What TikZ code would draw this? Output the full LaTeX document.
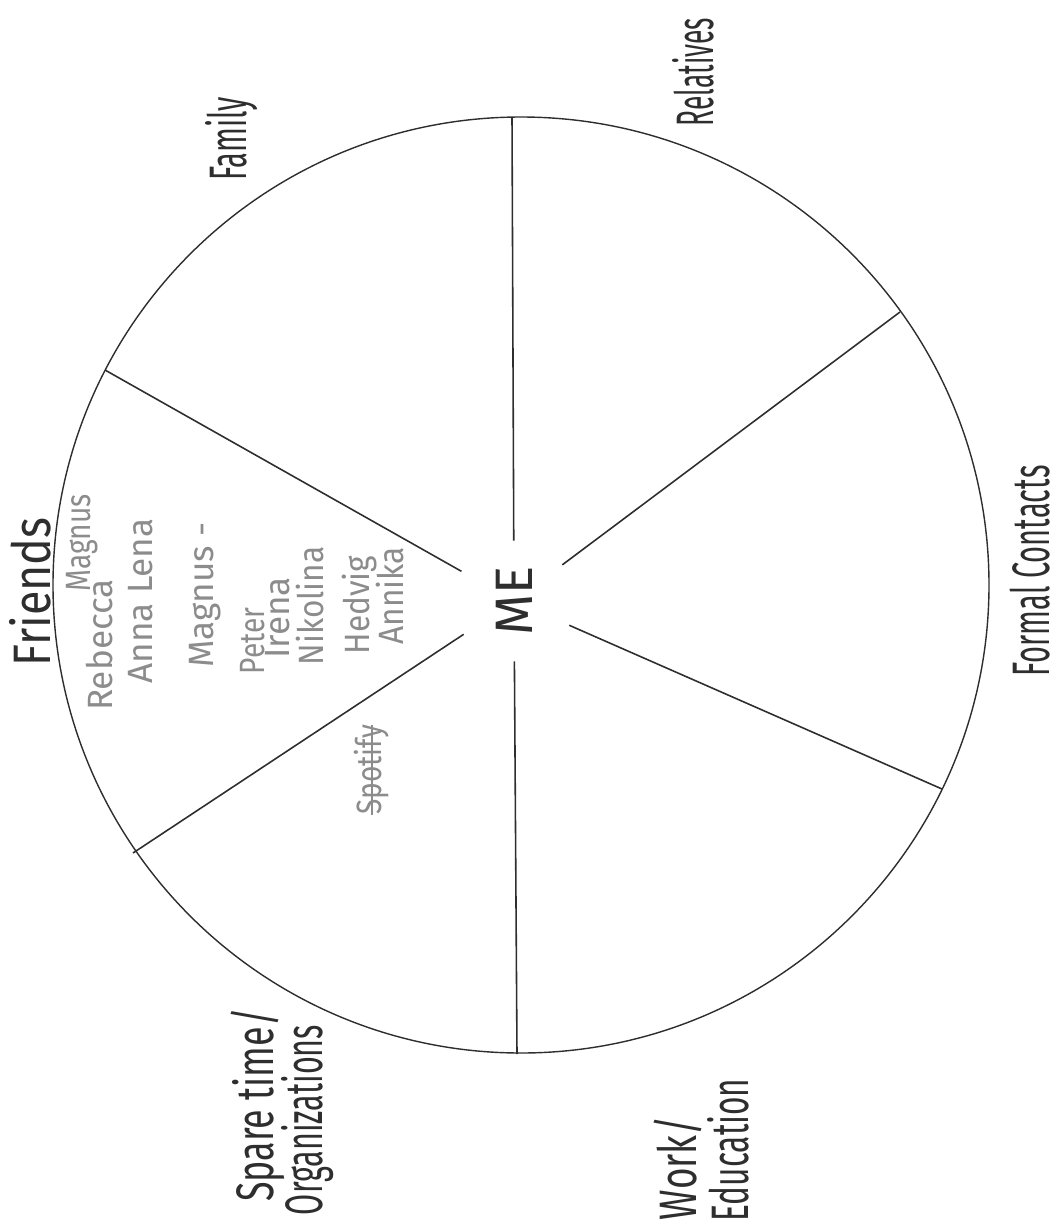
\documentclass[tikz,border=0pt]{standalone}
\usepackage{fontspec}
\setmainfont{Fira Sans}
\usetikzlibrary{positioning}
\definecolor{PenGrey}{HTML}{2E2E2E}
\definecolor{PencilGrey}{HTML}{8C8C8C}

\begin{document}
\begin{tikzpicture}[
  x=0.02cm, y=-0.02cm,
  wheel/.style={draw=PenGrey, line width=0.8pt},
  spoke/.style={draw=PenGrey, line width=0.9pt},
  hub/.style={circle, minimum size=2.4cm, inner sep=0pt, rotate=90,
    font=\fontsize{30}{32}\selectfont, text=PenGrey},
  sector/.style={rotate=90, inner sep=0pt, xscale=#1,
    font=\fontsize{30}{32}\selectfont, text=PenGrey},
  sector/.default=0.55,
  friend/.style={rotate=90, inner sep=0pt, xscale=#1,
    font=\fontsize{20}{22}\selectfont, text=PencilGrey},
  friend/.default=0.9
]
\useasboundingbox (0,0) rectangle (1064,1224);

% Wheel
\draw[wheel] (521,585) circle [radius=468];

% Centre
\node[hub] (me) at (514,601) {ME};

% Rim points of the six spokes
\coordinate (rimN)  at (512,117);
\coordinate (rimNE) at (900,312);
\coordinate (rimSE) at (942,789);
\coordinate (rimS)  at (517,1054);
\coordinate (rimSW) at (133,853);
\coordinate (rimNW) at (105,370);

\foreach \r in {rimN,rimNE,rimSE,rimS,rimSW,rimNW}
  \draw[spoke] (me) -- (\r);

% Sector labels
\node[sector=0.5] (relatives) at (693,72) {Relatives};
\node[sector] (family) at (232,139) {Family};
\node[sector=0.85] (friends) at (30,592) {Friends};
\node[sector=0.55] (formal) at (1030,571) {Formal Contacts};
\node[sector=0.68] (spare) at (258,1105) {Spare time/};
\node[sector=0.58] (organ) at (308,1120) {Organizations};
\node[sector=0.7] (work) at (678,1168) {Work/};
\node[sector=0.6] (educ) at (728,1150) {Education};

% Names in the friends sector
\node[friend=0.8] (n1) at (82,543) {Magnus};
\node[friend=1.0] (n2) at (100,645) {Rebecca};
\node[friend=1.0] (n3) at (141,601) {Anna Lena};
\node[friend=1.0] (n4) at (205,595) {Magnus -};
\node[friend=0.8] (n5) at (253,641) {Peter};
\node[friend=1.0] (n6) at (278,618) {Irena};
\node[friend=0.9] (n7) at (310,606) {Nikolina};
\node[friend=0.9] (n8) at (360,605) {Hedvig};
\node[friend=0.9] (n9) at (390,596) {Annika};

% Crossed-out entry in the spare time sector
\node[friend=0.8] (spot) at (372,770) {Spotify};
\draw[PencilGrey, line width=0.6pt] (spot.west) -- (spot.east);

\end{tikzpicture}
\end{document}
